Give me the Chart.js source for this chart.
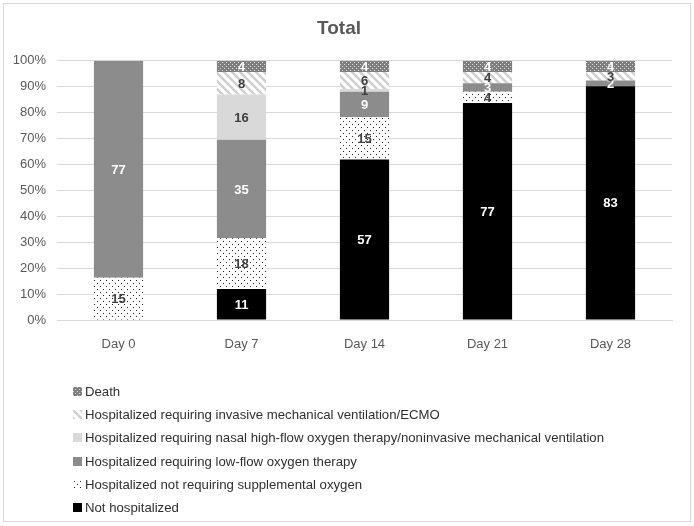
<!DOCTYPE html>
<html>
<head>
<meta charset="utf-8">
<script src="https://cdn.jsdelivr.net/npm/chart.js@4.4.1/dist/chart.umd.min.js"></script>
<style>
  html, body { margin: 0; padding: 0; background: #fff; }
  #frame { position: absolute; left: 3px; top: 3px; width: 686px; height: 517px; border: 1px solid #d9d9d9; }
  #wrap { position: absolute; left: 0; top: 0; width: 694px; height: 360px; }
  #legend { position: absolute; left: 0; top: 0; width: 694px; height: 526px; pointer-events: none; }
  .item { position: absolute; left: 73px; height: 20px; display: flex; align-items: center;
          font-family: 'Liberation Sans', sans-serif; font-size: 13.2px; color: #303030; white-space: nowrap; }
  .item canvas { width: 9px; height: 9px; margin-right: 3px; }
</style>
</head>
<body>
<div id="frame"></div>
<div id="wrap"><canvas id="chart" width="694" height="360"></canvas></div>
<div id="legend"></div>
<script>
const days = ["Day 0", "Day 7", "Day 14", "Day 21", "Day 28"];

// patient counts per day (n = 92)
const notHospitalized = [0, 11, 57, 77, 83];
const notRequiringOxygen = [15, 18, 15, 4, 0];
const lowFlowOxygen = [77, 35, 9, 3, 2];
const highFlowNoninvasive = [0, 16, 1, 0, 0];
const invasiveEcmo = [0, 8, 6, 4, 3];
const death = [0, 4, 4, 4, 4];

const seriesNames = [
    "Not hospitalized",
    "Hospitalized not requiring supplemental oxygen",
    "Hospitalized requiring low-flow oxygen therapy",
    "Hospitalized requiring nasal high-flow oxygen therapy/noninvasive mechanical ventilation",
    "Hospitalized requiring invasive mechanical ventilation/ECMO",
    "Death"
];

const fontFamily = "'Liberation Sans', sans-serif";
const textColor = "#595959";

function makePattern(kind) {
    const c = document.createElement("canvas");
    const g = c.getContext("2d");
    if (kind === "deathDots") {
        c.width = 4; c.height = 4;
        g.fillStyle = "#7f7f7f"; g.fillRect(0, 0, 4, 4);
        g.fillStyle = "#d8d8d8";
        g.fillRect(0, 0, 1, 1); g.fillRect(2, 2, 1, 1);
    } else if (kind === "whiteDots") {
        c.width = 6; c.height = 6;
        g.fillStyle = "#ffffff"; g.fillRect(0, 0, 6, 6);
        g.fillStyle = "#222222";
        g.fillRect(1, 1, 1, 1); g.fillRect(4, 4, 1, 1);
    } else if (kind === "stripes") {
        c.width = 8; c.height = 8;
        g.fillStyle = "#ffffff"; g.fillRect(0, 0, 8, 8);
        g.strokeStyle = "#cfcfcf"; g.lineWidth = 2.5;
        g.beginPath();
        g.moveTo(-2, -2); g.lineTo(10, 10);
        g.moveTo(-10, -2); g.lineTo(2, 10);
        g.moveTo(6, -2); g.lineTo(18, 10);
        g.stroke();
    }
    return c;
}

const ctx = document.getElementById("chart").getContext("2d");
const fills = [
    "#000000",
    ctx.createPattern(makePattern("whiteDots"), "repeat"),
    "#8c8c8c",
    "#d9d9d9",
    ctx.createPattern(makePattern("stripes"), "repeat"),
    ctx.createPattern(makePattern("deathDots"), "repeat")
];
const labelColors = ["#ffffff", "#404040", "#ffffff", "#404040", "#404040", "#ffffff"];
const counts = [notHospitalized, notRequiringOxygen, lowFlowOxygen, highFlowNoninvasive, invasiveEcmo, death];
const totals = days.map((d, i) => counts.reduce((s, arr) => s + arr[i], 0));

const countLabels = {
    id: "countLabels",
    afterDatasetsDraw(chart) {
        const g = chart.ctx;
        g.save();
        g.font = "bold 13px " + fontFamily;
        g.textAlign = "center";
        g.textBaseline = "middle";
        chart.data.datasets.forEach((ds, di) => {
            const meta = chart.getDatasetMeta(di);
            meta.data.forEach((bar, i) => {
                const n = counts[di][i];
                if (!n) return;
                g.fillStyle = labelColors[di];
                g.fillText(String(n), bar.x, (bar.y + bar.base) / 2 + 1);
            });
        });
        g.restore();
    }
};

new Chart(ctx, {
    type: "bar",
    data: {
        labels: days,
        datasets: counts.map((arr, di) => ({
            label: seriesNames[di],
            data: arr.map((v, i) => v / totals[i] * 100),
            backgroundColor: fills[di],
            borderWidth: 0,
            categoryPercentage: 1,
            barPercentage: 0.4
        }))
    },
    options: {
        responsive: false,
        animation: false,
        layout: { padding: { left: 6, right: 22, top: 0, bottom: 5 } },
        plugins: {
            legend: { display: false },
            tooltip: { enabled: false },
            title: {
                display: true,
                text: "Total",
                color: textColor,
                font: { size: 19, weight: "bold", family: fontFamily },
                padding: { top: 17, bottom: 21 }
            }
        },
        scales: {
            x: {
                stacked: true,
                grid: { display: false, drawTicks: false },
                border: { color: "#d9d9d9" },
                ticks: { color: textColor, font: { size: 13, family: fontFamily }, padding: 17 },
                afterFit(s) { s.height = 35; }
            },
            y: {
                stacked: true,
                min: 0, max: 100,
                grid: { color: "#d9d9d9", drawTicks: false },
                border: { display: false },
                ticks: {
                    stepSize: 10,
                    color: textColor,
                    font: { size: 13, family: fontFamily },
                    padding: 11,
                    callback: v => v + "%"
                },
                afterFit(s) { s.width = 51; }
            }
        }
    },
    plugins: [countLabels]
});

// legend, listed top to bottom in reverse series order
const legend = document.getElementById("legend");
const markerKinds = ["solid:#000000", "whiteDots", "solid:#8c8c8c", "solid:#d9d9d9", "stripes", "deathDots"];
const rowTop = [497, 474, 451, 427, 404, 381];
seriesNames.forEach((name, di) => {
    const row = document.createElement("div");
    row.className = "item";
    row.style.top = rowTop[di] + "px";
    const m = document.createElement("canvas");
    m.width = 9; m.height = 9;
    const mg = m.getContext("2d");
    if (markerKinds[di].startsWith("solid:")) {
        mg.fillStyle = markerKinds[di].slice(6);
    } else {
        mg.fillStyle = mg.createPattern(makePattern(markerKinds[di]), "repeat");
    }
    mg.fillRect(0, 0, 9, 9);
    row.appendChild(m);
    row.appendChild(document.createTextNode(name));
    legend.appendChild(row);
});
</script>
</body>
</html>
